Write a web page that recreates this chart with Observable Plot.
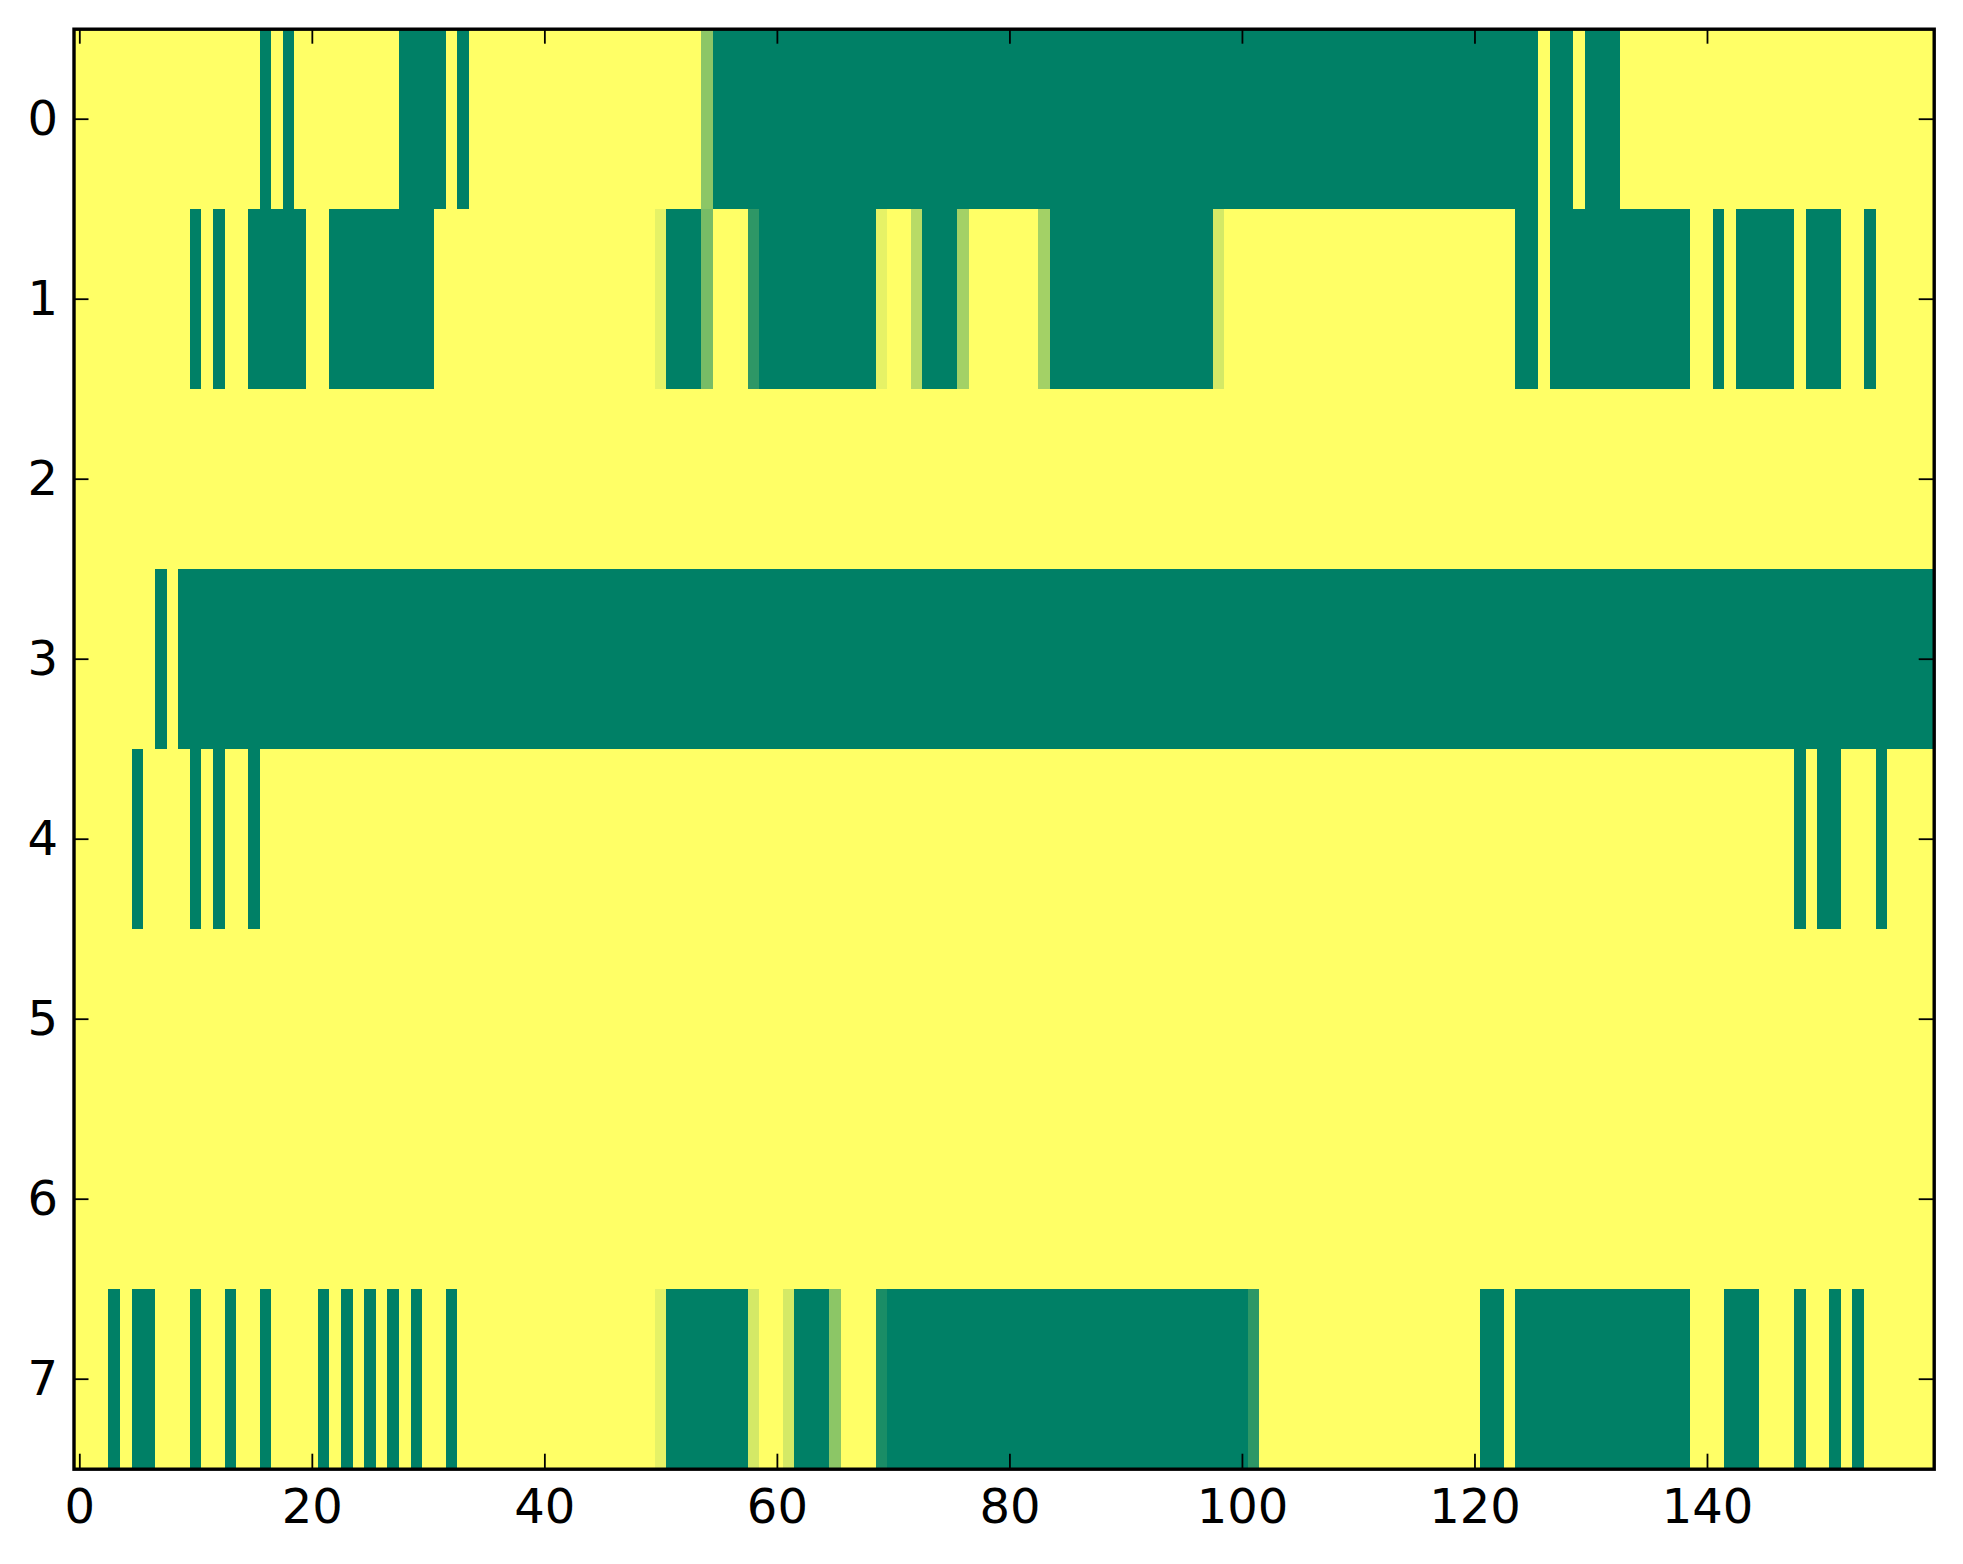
<!DOCTYPE html>
<html><head><meta charset="utf-8">
<script src="https://cdn.jsdelivr.net/npm/d3@7"></script>
<script src="https://cdn.jsdelivr.net/npm/@observablehq/plot@0.6"></script>
<style>body{margin:0;background:#fff;}</style>
</head><body><div id="chart"></div>
<script>
const nCols = 160;
const rowLabels = [0, 1, 2, 3, 4, 5, 6, 7];
const xTicks = [0, 20, 40, 60, 80, 100, 120, 140];
// runs of cells: [firstColumn, lastColumn, value]; all other cells are 0
const row0 = [[16,16,1],[18,18,1],[28,31,1],[33,33,1],[54,54,0.45],[55,125,1],[127,128,1],[130,132,1]];
const row1 = [[10,10,1],[12,12,1],[15,19,1],[22,30,1],[50,50,0.1],[51,53,1],[54,54,0.53],[58,58,0.82],[59,68,1],[69,69,0.1],[72,72,0.28],[73,75,1],[76,76,0.36],[83,83,0.36],[84,97,1],[98,98,0.17],[124,125,1],[127,138,1],[141,141,1],[143,147,1],[149,151,1],[154,154,1]];
const row2 = [];
const row3 = [[7,7,1],[9,159,1]];
const row4 = [[5,5,1],[10,10,1],[12,12,1],[15,15,1],[148,148,1],[150,151,1],[155,155,1]];
const row5 = [];
const row6 = [];
const row7 = [[3,3,1],[5,6,1],[10,10,1],[13,13,1],[16,16,1],[21,21,1],[23,23,1],[25,25,1],[27,27,1],[29,29,1],[32,32,1],[50,50,0.1],[51,57,1],[58,58,0.17],[61,61,0.17],[62,64,1],[65,65,0.45],[69,69,0.9],[70,100,1],[101,101,0.82],[121,122,1],[124,138,1],[142,144,1],[148,148,1],[151,151,1],[153,153,1]];
const rows = [row0, row1, row2, row3, row4, row5, row6, row7];

const cells = [];
rows.forEach((runs, r) => {
  const vals = new Array(nCols).fill(0);
  for (const [a, b, v] of runs) for (let c = a; c <= b; c++) vals[c] = v;
  vals.forEach((v, c) => cells.push({row: rowLabels[r], col: c, value: v}));
});

const W = 1963, H = 1564;
const mL = 73.5, mR = 29.3, mT = 28.7, mB = 95.3;
const frameW = W - mL - mR, frameH = H - mT - mB;
const tickLen = 15;

const chart = Plot.plot({
  width: W, height: H,
  marginLeft: mL, marginRight: mR, marginTop: mT, marginBottom: mB,
  style: {fontFamily: "DejaVu Sans", fontSize: "48px", color: "black", background: "white"},
  x: {domain: [-0.5, nCols - 0.5], label: null},
  y: {domain: [-0.5, rowLabels.length - 0.5], reverse: true, label: null},
  color: {type: "linear", domain: [0, 1], range: ["#ffff66", "#008066"], interpolate: "rgb"},
  marks: [
    Plot.rect(cells, {
      x1: d => d.col - 0.5, x2: d => d.col + 0.5,
      y1: d => d.row - 0.5, y2: d => d.row + 0.5,
      fill: "value", shapeRendering: "crispEdges"
    }),
    Plot.tickX(xTicks, {x: d => d, insetTop: frameH - tickLen, stroke: "black", strokeWidth: 1.8}),
    Plot.tickX(xTicks, {x: d => d, insetBottom: frameH - tickLen, stroke: "black", strokeWidth: 1.8}),
    Plot.tickY(rowLabels, {y: d => d, insetRight: frameW - tickLen, stroke: "black", strokeWidth: 1.8}),
    Plot.tickY(rowLabels, {y: d => d, insetLeft: frameW - tickLen, stroke: "black", strokeWidth: 1.8}),
    Plot.axisX({ticks: xTicks, anchor: "bottom", tickSize: 0, tickPadding: 20, fontSize: 48, label: null}),
    Plot.axisY({ticks: rowLabels, anchor: "left", tickSize: 0, tickPadding: 16, fontSize: 48, label: null}),
    Plot.frame({stroke: "black", strokeWidth: 3.4})
  ]
});
document.getElementById("chart").appendChild(chart);
</script>
</body></html>
